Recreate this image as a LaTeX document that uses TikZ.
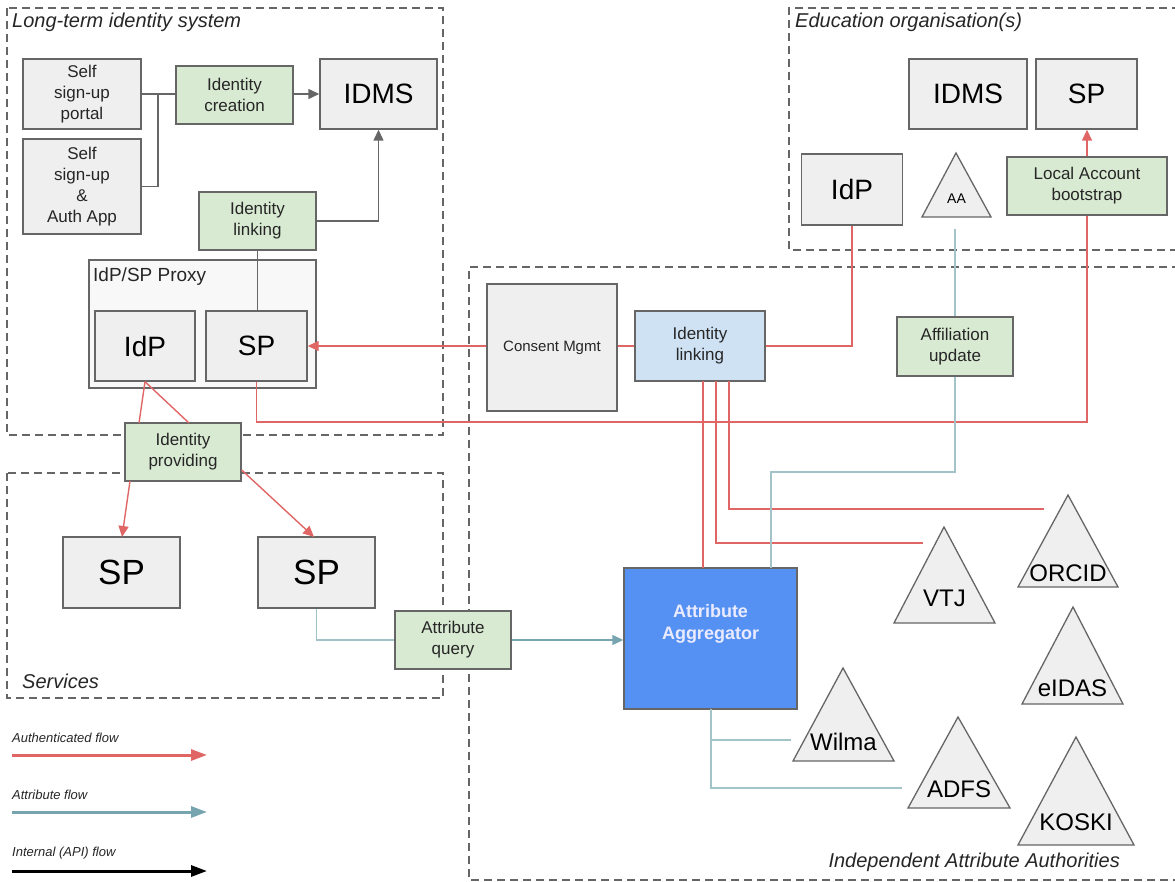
\documentclass[tikz,border=0pt]{standalone}
\usepackage{fontspec}
\setmainfont{Liberation Sans}
\usetikzlibrary{arrows.meta}
\definecolor{boxfill}{HTML}{EFEFEF}
\definecolor{boxdraw}{HTML}{666666}
\definecolor{greenfill}{HTML}{D9EAD3}
\definecolor{bluefill}{HTML}{CFE2F3}
\definecolor{aggfill}{HTML}{5591F2}
\definecolor{authred}{HTML}{E06666}
\definecolor{attrblue}{HTML}{A2C4C9}
\definecolor{attrteal}{HTML}{76A5AF}
\definecolor{txt}{HTML}{262626}
\definecolor{proxyfill}{HTML}{F8F8F8}
\newcommand\mytri[8]{%
  \draw[tri] (#2,#3) -- (#5,#4) -- (#6,#4) -- cycle;
  \node[trilabel] (#1) at ({(#5+#6)/2},#7) {#8};}
\begin{document}
\begin{tikzpicture}[x=1pt,y=-1pt,
 box/.style={draw=boxdraw, fill=boxfill, line width=1.4pt, inner sep=0pt, align=center, text=black},
 sz/.style 2 args={minimum width=#1pt, minimum height=#2pt},
 big/.style={font=\fontsize{28}{32}\selectfont},
 huge/.style={font=\fontsize{35}{40}\selectfont},
 small/.style={font=\fontsize{17}{21}\selectfont, text=txt},
 gbox/.style={box, fill=greenfill, text=txt, font=\fontsize{17}{21}\selectfont},
 region/.style={draw=boxdraw, line width=1.3pt, dash pattern=on 8pt off 5pt},
 rlabel/.style={font=\fontsize{20}{24}\selectfont\itshape, text=txt, inner sep=0pt},
 authline/.style={draw=authred, line width=1.4pt},
 attrline/.style={draw=attrblue, line width=1.4pt},
 intline/.style={draw=boxdraw, line width=1.4pt},
 tip/.style={-{Triangle[length=11pt,width=10pt]}},
 tri/.style={draw=boxdraw, fill=boxfill, line width=1.3pt, line join=miter},
 trilabel/.style={font=\fontsize{24}{28}\selectfont, inner sep=0pt},
 legtext/.style={font=\fontsize{13}{16}\selectfont\itshape, text=txt, inner sep=0pt, anchor=west},
 legline/.style={line width=3pt, -{Triangle[length=16pt,width=11pt]}},
]
\useasboundingbox (0,0) rectangle (1175,882);
% regions
\draw[region] (7,8) rectangle (443,435);
\draw[region] (7,473) rectangle (443,698);
\draw[region] (1180,8) -- (789,8) -- (789,250) -- (1180,250);
\draw[region] (1180,267) -- (469,267) -- (469,880) -- (1180,880);
\node[rlabel, anchor=west] (lblLT) at (12,22) {Long-term identity system};
\node[rlabel, anchor=west] (lblEdu) at (795,22) {Education organisation(s)};
\node[rlabel, anchor=west] (lblSvc) at (22,681) {Services};
\node[rlabel, anchor=east] (lblIAA) at (1120,862) {Independent Attribute Authorities};

% long-term identity system
\node[box, sz={118}{70}, small] (portal) at (82,94) {Self\\sign-up\\portal};
\node[box, sz={118}{95}, small] (authapp) at (82,186.5) {Self\\sign-up\\\&\\Auth App};
\node[gbox, sz={117}{58}] (idcreate) at (234.5,95) {Identity\\creation};
\node[box, sz={117}{70}, big] (idms1) at (378.5,94) {IDMS};
\node[gbox, sz={117}{58}] (idlink1) at (257.5,221) {Identity\\linking};
\node[draw=boxdraw, fill=proxyfill, line width=1.4pt, sz={227}{128}, inner sep=0pt] (proxy) at (202.5,324) {};
\node[font=\fontsize{19}{22}\selectfont, text=txt, anchor=west, inner sep=0pt] (proxylbl) at (93,277) {IdP/SP Proxy};
\node[box, sz={100}{70}, big] (idp1) at (145,346) {IdP};
\node[box, sz={101}{70}, big] (sp1) at (256.5,346) {SP};

% services
\node[gbox, sz={116}{58}] (idprov) at (183,452) {Identity\\providing};
\node[box, sz={117}{71}, huge] (spA) at (121.5,572.5) {SP};
\node[box, sz={117}{71}, huge] (spB) at (316.5,572.5) {SP};
\node[gbox, sz={116}{58}] (attrq) at (453,640) {Attribute\\query};

% education organisation
\node[box, sz={118}{70}, big] (idms2) at (968,94) {IDMS};
\node[box, sz={101}{70}, big] (sp2) at (1086.5,94) {SP};
\node[box, sz={101}{71}, big] (idp2) at (852,189.5) {IdP};
\node[gbox, sz={160}{58}] (localacc) at (1087,186) {Local Account\\bootstrap};
\mytri{aa}{956}{153}{217}{922}{991}{199}{\fontsize{14}{16}\selectfont AA}

% independent attribute authorities
\node[box, sz={130}{127}, font=\fontsize{15}{18}\selectfont, text=txt] (consent) at (552,347.5) {Consent Mgmt};
\node[box, fill=bluefill, sz={130}{70}, small] (idlink2) at (700,346) {Identity\\linking};
\node[gbox, sz={116}{59}] (affil) at (955,346.5) {Affiliation\\update};
\node[draw=boxdraw, fill=aggfill, line width=1.4pt, sz={173}{141}, inner sep=0pt] (agg) at (710.5,638.5) {};
\node[font=\fontsize{18}{22}\selectfont\bfseries, text=white!92!blue, align=center, inner sep=0pt] (aggtext) at (710.5,624) {Attribute\\Aggregator};
\mytri{vtj}{944}{527}{623}{894}{995}{598}{VTJ}
\mytri{orcid}{1068}{495}{587}{1018}{1118}{573}{ORCID}
\mytri{eidas}{1073}{607}{704}{1022}{1123}{688}{eIDAS}
\mytri{wilma}{843}{668}{761}{793}{894}{742}{Wilma}
\mytri{adfs}{958}{717}{808}{908}{1010}{789}{ADFS}
\mytri{koski}{1076}{737}{845}{1018}{1134}{822}{KOSKI}

% coordinates
\coordinate (j1) at (158,94);
\coordinate (aabelow) at (955,229);
\coordinate (vtjend) at (923,543);
\coordinate (orcidend) at (1044,509);
\coordinate (wilmaend) at (791,740);
\coordinate (adfsend) at (902,788);

% internal flows
\draw[intline] (portal.east) -- (portal.east -| idcreate.west);
\draw[intline] (authapp.east) -| (j1);
\draw[intline, tip] (idcreate.east |- portal.east) -- (idms1.west);
\draw[intline, tip] (idlink1.east) -| (idms1.south);
\draw[intline] (idlink1.south) -- (idlink1.south |- sp1.north);

% authenticated flows
\draw[authline, tip] (consent.west |- sp1.east) -- (sp1.east);
\draw[authline] (consent.east |- idlink2.west) -- (idlink2.west);
\draw[authline] (idlink2.east) -| (idp2.south);
\draw[authline] (sp1.south) -- (sp1.south |- 0,422) -| (localacc.south);
\draw[authline, tip] (localacc.north) -- (localacc.north |- sp2.south);
\draw[authline] (idp1.south) -- (139,423);
\draw[authline] (idp1.south) -- (189,423);
\draw[authline, tip] (130,481) -- (122,537);
\draw[authline, tip] (idprov.east |- 0,470) -- (314,537);
\draw[authline] (703,381) -- (703,568);
\draw[authline] (716,381) |- (vtjend);
\draw[authline] (729,381) |- (orcidend);

% attribute flows
\draw[attrline] (spB.south) |- (attrq.west);
\draw[draw=attrteal, line width=1.4pt, tip] (attrq.east) -- (attrq.east -| agg.west);
\draw[attrline] (aabelow) -- (aabelow |- affil.north);
\draw[attrline] (affil.south) |- (771,472) -- (771,568);
\draw[attrline] (711,709) |- (adfsend);
\draw[attrline] (711,740) -- (wilmaend);

% legend
\node[legtext] (leg1) at (12,738) {Authenticated flow};
\node[legtext] (leg2) at (12,795) {Attribute flow};
\node[legtext] (leg3) at (12,853) {Internal (API) flow};
\coordinate (l1a) at (12,755); \coordinate (l1b) at (207,755);
\coordinate (l2a) at (12,812); \coordinate (l2b) at (207,812);
\coordinate (l3a) at (12,871); \coordinate (l3b) at (207,871);
\draw[legline, authred] (l1a) -- (l1b);
\draw[legline, attrteal] (l2a) -- (l2b);
\draw[legline, black] (l3a) -- (l3b);
\end{tikzpicture}
\end{document}
